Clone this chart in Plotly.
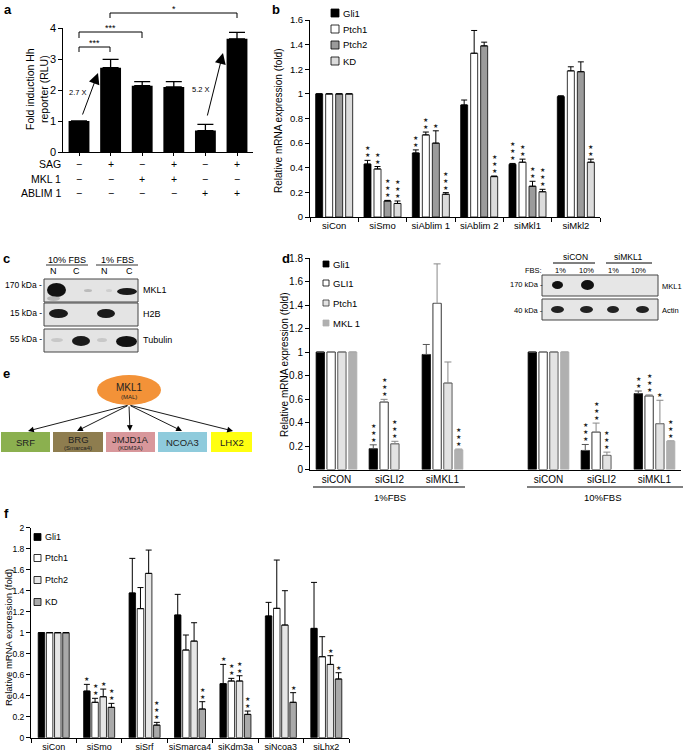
import plotly.graph_objects as go

W, H = 685, 755
FONT = "Arial, 'Liberation Sans', Helvetica, sans-serif"

# ---------------- data ----------------
# panel a : Hh reporter
a_values = [1.0, 2.72, 2.14, 2.10, 0.69, 3.65]
a_err_top = [1.0, 2.99, 2.27, 2.27, 0.89, 3.86]
a_sag = ["−", "+", "−", "+", "−", "+"]
a_mkl1 = ["−", "−", "+", "+", "−", "−"]
a_ablim1 = ["−", "−", "−", "−", "+", "+"]
a_row_labels = ["SAG", "MKL 1", "ABLIM 1"]

# panel b
b_cats = ["siCon", "siSmo", "siAblim 1", "siAblim 2", "siMkl1", "siMkl2"]
b_series = ["Gli1", "Ptch1", "Ptch2", "KD"]
b_gli1 = [1.0, 0.43, 0.52, 0.91, 0.428, 0.978]
b_gli1_top = [1.0, 0.46, 0.545, 0.95, 0.435, 0.985]
b_ptch1 = [1.0, 0.39, 0.667, 1.33, 0.445, 1.187]
b_ptch1_top = [1.0, 0.41, 0.69, 1.515, 0.47, 1.22]
b_ptch2 = [1.0, 0.13, 0.60, 1.39, 0.25, 1.18]
b_ptch2_top = [1.0, 0.135, 0.70, 1.42, 0.29, 1.26]
b_kd = [1.0, 0.11, 0.185, 0.328, 0.205, 0.445]
b_kd_top = [1.0, 0.13, 0.198, 0.333, 0.225, 0.47]
b_stars = [[0, 2, 2, 0, 3, 0], [0, 2, 2, 0, 2, 0], [0, 3, 1, 0, 2, 0], [0, 3, 3, 3, 3, 2]]

# panel d
d_cats = ["siCON", "siGLI2", "siMKL1", "siCON", "siGLI2", "siMKL1"]
d_pos = [0, 1, 2, 4, 5, 6]
d_series = ["Gli1", "GLI1", "Ptch1", "MKL 1"]
d_gli1 = [1.0, 0.177, 0.979, 1.0, 0.162, 0.646]
d_gli1_top = [1.0, 0.21, 1.064, 1.0, 0.213, 0.668]
d_GLI1 = [1.0, 0.574, 1.414, 1.0, 0.318, 0.626]
d_GLI1_top = [1.0, 0.597, 1.75, 1.0, 0.395, 0.635]
d_ptch1 = [1.0, 0.219, 0.736, 1.0, 0.12, 0.39]
d_ptch1_top = [1.0, 0.24, 0.915, 1.0, 0.148, 0.589]
d_mkl1 = [1.0, None, 0.168, 1.0, None, 0.241]
d_mkl1_top = [1.0, None, 0.175, 1.0, None, 0.245]
d_stars = [[0, 3, 0, 0, 3, 2], [0, 3, 0, 0, 3, 3], [0, 3, 0, 0, 3, 1], [0, 0, 3, 0, 0, 3]]
d_groups = ["1%FBS", "10%FBS"]

# panel f
f_cats = ["siCon", "siSmo", "siSrf", "siSmarca4", "siKdm3a", "siNcoa3", "siLhx2"]
f_series = ["Gli1", "Ptch1", "Ptch2", "KD"]
f_gli1 = [1.0, 0.444, 1.378, 1.168, 0.514, 1.159, 1.041]
f_gli1_top = [1.0, 0.508, 1.708, 1.365, 0.698, 1.289, 1.479]
f_ptch1 = [1.0, 0.337, 1.229, 0.835, 0.54, 1.232, 0.771]
f_ptch1_top = [1.0, 0.375, 1.43, 0.978, 0.565, 1.692, 0.962]
f_ptch2 = [1.0, 0.39, 1.565, 0.92, 0.54, 1.073, 0.698]
f_ptch2_top = [1.0, 0.463, 1.787, 1.095, 0.59, 1.40, 0.781]
f_kd = [1.0, 0.289, 0.12, 0.273, 0.222, 0.337, 0.559]
f_kd_top = [1.0, 0.327, 0.146, 0.343, 0.254, 0.429, 0.619]
f_stars = [[0, 1, 0, 0, 1, 0, 0], [0, 2, 0, 0, 2, 0, 0], [0, 1, 0, 0, 2, 0, 1], [0, 2, 3, 2, 2, 1, 1]]

# panel e
e_center = "MKL1"
e_center_sub = "(MAL)"
e_targets = ["SRF", "BRG", "JMJD1A", "NCOA3", "LHX2"]
e_target_subs = ["", "(Smarca4)", "(KDM3A)", "", ""]


# ---------------- helpers ----------------
def px(x):
    return x / W


def py(y):
    return 1 - y / H


shapes = []
annotations = []


def txt(x, y, text, size=9, xanchor="center", yanchor="middle", color="black", angle=0):
    annotations.append(dict(x=px(x), y=py(y), xref="paper", yref="paper", text=text,
                            showarrow=False, xanchor=xanchor, yanchor=yanchor, textangle=angle,
                            font=dict(family=FONT, size=size, color=color), borderpad=0))


def line(x0, y0, x1, y1, color="black", width=1):
    shapes.append(dict(type="line", xref="paper", yref="paper", x0=px(x0), y0=py(y0),
                       x1=px(x1), y1=py(y1), line=dict(color=color, width=width)))


def rect(x0, y0, x1, y1, fill, lc="black", lw=1):
    shapes.append(dict(type="rect", xref="paper", yref="paper", x0=px(x0), y0=py(y0),
                       x1=px(x1), y1=py(y1), fillcolor=fill, line=dict(color=lc, width=lw)))


def ellipse(x0, y0, x1, y1, fill, lc=None, lw=0, opacity=1):
    shapes.append(dict(type="circle", xref="paper", yref="paper", x0=px(x0), y0=py(y0),
                       x1=px(x1), y1=py(y1), fillcolor=fill, opacity=opacity,
                       line=dict(color=lc or fill, width=lw)))


def arrow(x0, y0, x1, y1, size=1.0, width=1.0, head=2):
    annotations.append(dict(x=px(x1), y=py(y1), ax=x0 - x1, ay=y0 - y1, xref="paper", yref="paper",
                            axref="pixel", ayref="pixel", text="", showarrow=True, arrowhead=head,
                            arrowsize=size, arrowwidth=width, arrowcolor="black"))


def stars(xa, ya, xs, tops, counts, size=5.5):
    for x, t, c in zip(xs, tops, counts):
        if t is None or c == 0:
            continue
        annotations.append(dict(x=x, y=t, xref=xa, yref=ya, text="<br>".join(["★"] * c),
                                showarrow=False, yanchor="bottom", yshift=1, borderpad=0,
                                font=dict(family=FONT, size=size, color="#222")))


def grouped(fig, xa, ya, cats_pos, vals, tops, colors, lines, errcols, w, step, capw, star_counts):
    n = len(vals)
    for i in range(n):
        shift = (i - (n - 1) / 2) * step
        xs = [c + shift for c, v in zip(cats_pos, vals[i]) if v is not None]
        ys = [v for v in vals[i] if v is not None]
        ts = [t for t in tops[i] if t is not None]
        fig.add_trace(go.Bar(
            x=xs, y=ys, width=w,
            marker=dict(color=colors[i], line=dict(color=lines[i], width=0.8)),
            error_y=dict(type="data", symmetric=False, array=[t - v for t, v in zip(ts, ys)],
                         arrayminus=[0] * len(xs), color=errcols[i], thickness=1, width=capw),
            xaxis=xa, yaxis=ya, showlegend=False))
        stars(xa, ya, [c + shift for c in cats_pos], tops[i], star_counts[i])


fig = go.Figure()

# ---------------- panel a ----------------
a_x = list(range(len(a_values)))
fig.add_trace(go.Bar(
    x=a_x, y=a_values, width=0.66, marker=dict(color="black", line=dict(width=0)),
    error_y=dict(type="data", symmetric=False,
                 array=[t - v for t, v in zip(a_err_top, a_values)],
                 arrayminus=[0] * len(a_values), color="black", thickness=1.3, width=8),
    xaxis="x", yaxis="y", showlegend=False))

for (xa0, xa1, yh, yl, lab, ly) in [(79, 110, 47, 52, "***", 43), (79, 142, 32, 38, "***", 28),
                                     (110, 237, 13, 18, "*", 9)]:
    shapes.append(dict(type="path", xref="paper", yref="paper",
                       path=f"M {px(xa0)} {py(yl)} L {px(xa0)} {py(yh)} L {px(xa1)} {py(yh)} L {px(xa1)} {py(yl)}",
                       line=dict(color="black", width=1)))
    txt((xa0 + xa1) / 2, ly, lab, size=9)

arrow(82, 116, 98, 73, size=2.2, width=1)
arrow(207, 117, 223, 53, size=2.2, width=1)
txt(78, 93, "2.7 X", size=7.5)
txt(201, 90, "5.2 X", size=7.5)

a_centers = [79, 110.5, 142, 173.5, 205, 237]
for row_y, lab, signs in [(164, a_row_labels[0], a_sag), (179, a_row_labels[1], a_mkl1),
                          (193, a_row_labels[2], a_ablim1)]:
    txt(62, row_y, lab, size=10.5, xanchor="right")
    for cx, s in zip(a_centers, signs):
        txt(cx, row_y, s, size=10.5)

txt(37, 89, "Fold induction Hh<br>reporter (RLU)", size=10.5, angle=-90)

# ---------------- panel b ----------------
b_colors = ["#000000", "#ffffff", "#9b9b9b", "#dcdcdc"]
b_x = list(range(len(b_cats)))
grouped(fig, "x2", "y2", b_x, [b_gli1, b_ptch1, b_ptch2, b_kd],
        [b_gli1_top, b_ptch1_top, b_ptch2_top, b_kd_top], b_colors, ["black"] * 4,
        ["black"] * 4, 0.145, 0.207, 3, b_stars)

for i, (name, yy) in enumerate(zip(b_series, [13, 29, 45, 61])):
    rect(331, yy - 4, 339, yy + 4, b_colors[i], "black", 0.8)
    txt(342, yy, name, size=9.5, xanchor="left")

txt(279, 121, "Relative mRNA expression (fold)", size=10, angle=-90)

# ---------------- panel c : blot ----------------
txt(67, 260, "10% FBS", size=9)
txt(117, 260, "1% FBS", size=9)
line(46, 265, 88, 265, "#333", 1)
line(96, 265, 138, 265, "#333", 1)
for cx, l in zip([53, 76, 104, 129], ["N", "C", "N", "C"]):
    txt(cx, 271, l, size=9)
for (y0, y1) in [(279, 302), (303, 326), (329, 352)]:
    rect(44, y0, 138, y1, "#e4e4e4", "#444", 1)
ellipse(47, 283, 66, 297, "#111")
ellipse(47, 296, 60, 301, "#999", opacity=0.6)
ellipse(84, 289, 92, 292, "#bbb")
ellipse(106, 289, 112, 292, "#cfcfcf")
ellipse(117, 288, 137, 295, "#1a1a1a")
ellipse(49, 309, 68, 318, "#1a1a1a")
ellipse(97, 309, 115, 318, "#1a1a1a")
ellipse(51, 338, 63, 342, "#c8c8c8")
ellipse(72, 336, 90, 346, "#1a1a1a")
ellipse(97, 338, 107, 342, "#c8c8c8")
ellipse(116, 336, 137, 347, "#111")
txt(43, 285, "170 kDa -", size=8.5, xanchor="right")
txt(43, 313, "15 kDa -", size=8.5, xanchor="right")
txt(43, 339, "55 kDa -", size=8.5, xanchor="right")
txt(142, 290, "MKL1", size=9, xanchor="left")
txt(142, 314, "H2B", size=9, xanchor="left")
txt(142, 340, "Tubulin", size=9, xanchor="left")

# ---------------- panel e : diagram ----------------
ellipse(97, 375, 161, 405, "#F39238")
txt(129, 387, e_center, size=10, color="#222")
txt(129, 397, e_center_sub, size=6, color="#222")
e_boxes = [(1, 50), (53, 103), (106, 155), (158, 207), (211, 252)]
e_fills = ["#8BB04F", "#8E7D4F", "#D8979B", "#8FCBDC", "#FFFF10"]
e_heads = [28, 77, 130, 182, 233]
for (x0, x1), fcol, name, sub, hx in zip(e_boxes, e_fills, e_targets, e_target_subs, e_heads):
    rect(x0, 432, x1, 452, fcol, fcol, 0)
    if sub:
        txt((x0 + x1) / 2, 439, name, size=9.5, color="#222")
        txt((x0 + x1) / 2, 448, sub, size=6, color="#222")
    else:
        txt((x0 + x1) / 2, 442, name, size=9.5, color="#222")
    arrow(129, 405, hx, 431, size=1.3, width=0.9)

# ---------------- panel d ----------------
d_colors = ["#000000", "#ffffff", "#e3e3e3", "#b0b0b0"]
d_lines = ["#000000", "#000000", "#333333", "#b0b0b0"]
d_err_colors = ["#555555", "#888888", "#888888", "#aaaaaa"]
grouped(fig, "x3", "y3", d_pos, [d_gli1, d_GLI1, d_ptch1, d_mkl1],
        [d_gli1_top, d_GLI1_top, d_ptch1_top, d_mkl1_top], d_colors, d_lines, d_err_colors,
        0.157, 0.204, 3.5, d_stars)

for i, (name, yy) in enumerate(zip(d_series, [264, 283, 303, 323])):
    rect(323, yy - 3, 329, yy + 3, d_colors[i], d_lines[i], 0.8)
    txt(332, yy, name, size=9.5, xanchor="left")

line(313, 487, 465, 487, "black", 1)
line(527, 487, 683, 487, "black", 1)
txt(390, 497, d_groups[0], size=9.5)
txt(603, 497, d_groups[1], size=9.5)
txt(284, 365, "Relative mRNA expression (fold)", size=10, angle=-90)

# inset blot
txt(575, 257, "siCON", size=8.5)
txt(628, 257, "siMKL1", size=8.5)
line(553, 263, 595, 263, "black", 1)
line(606, 263, 652, 263, "black", 1)
txt(533, 270, "FBS:", size=7.5)
for cx, l in zip([560, 586, 613, 638], ["1%", "10%", "1%", "10%"]):
    txt(cx, 270, l, size=7.5)
rect(542, 275, 658, 296, "#e6e6e6", "#444", 1)
rect(542, 299, 658, 320, "#e6e6e6", "#444", 1)
ellipse(552, 281, 563, 289, "#111")
ellipse(581, 280, 594, 290, "#111")
for (x0, x1) in [(551, 564), (580, 593), (607, 619), (636, 649)]:
    ellipse(x0, 306, x1, 313, "#222")
txt(544, 285, "170 kDa -", size=7.5, xanchor="right")
txt(544, 310, "40 kDa -", size=7.5, xanchor="right")
txt(661, 286, "MKL1", size=7.5, xanchor="left")
txt(661, 310, "Actin", size=7.5, xanchor="left")

# ---------------- panel f ----------------
f_colors = ["#000000", "#ffffff", "#e6e6e6", "#a9a9a9"]
f_x = list(range(len(f_cats)))
grouped(fig, "x4", "y4", f_x, [f_gli1, f_ptch1, f_ptch2, f_kd],
        [f_gli1_top, f_ptch1_top, f_ptch2_top, f_kd_top], f_colors, ["black"] * 4,
        ["black"] * 4, 0.143, 0.18, 3, f_stars)

for i, (name, yy) in enumerate(zip(f_series, [537, 558, 580, 602])):
    rect(34, yy - 3.5, 41, yy + 3.5, f_colors[i], "black", 0.8)
    txt(44, yy, name, size=9, xanchor="left")
txt(8, 638, "Relative mRNA expression (fold)", size=9.5, angle=-90)

# ---------------- panel labels ----------------
for lab, (x, y) in zip("abcdef", [(8, 9), (276, 9), (6, 259), (286, 258), (6, 373), (6, 513)]):
    annotations.append(dict(x=px(x), y=py(y), xref="paper", yref="paper", text=f"<b>{lab}</b>",
                            showarrow=False, xanchor="center", yanchor="middle", borderpad=0,
                            font=dict(family=FONT, size=13, color="black")))


# ---------------- axes ----------------
def yax(d0, d1, rng, dtick, size, anchor):
    return dict(domain=[py(d0), py(d1)], range=rng, dtick=dtick, tick0=0, showline=True,
                linecolor="black", linewidth=1, ticks="outside", ticklen=4, tickcolor="black",
                tickfont=dict(family=FONT, size=size), showgrid=False, zeroline=False,
                anchor=anchor, fixedrange=True, automargin=False)


def xax(d0, d1, rng, tickvals, ticktext, size, anchor, boundaries=None, ticks=""):
    ax = dict(domain=[px(d0), px(d1)], range=rng, tickvals=tickvals, ticktext=ticktext,
              showline=True, linecolor="black", linewidth=1, ticks=ticks, ticklen=3,
              tickcolor="black", tickfont=dict(family=FONT, size=size), showgrid=False,
              zeroline=False, anchor=anchor, fixedrange=True, automargin=False)
    if boundaries is not None:
        ax["minor"] = dict(tickvals=boundaries, ticks="outside", ticklen=4, tickcolor="black",
                           showgrid=False)
    return ax


fig.update_layout(
    template="none",
    width=W, height=H, margin=dict(l=0, r=0, t=0, b=0, pad=0), autosize=False,
    paper_bgcolor="white", plot_bgcolor="white", barmode="overlay",
    font=dict(family=FONT, color="black"),
    xaxis=xax(63.2, 252.8, [-0.5, 5.5], a_x, [""] * 6, 10, "y", ticks="outside"),
    yaxis=yax(152, 28, [0, 4], 1, 11, "x"),
    xaxis2=xax(310, 600, [-0.5, 5.5], b_x, b_cats, 9.5, "y2",
               boundaries=[i - 0.5 for i in range(7)]),
    yaxis2=yax(217, 20, [0, 1.6], 0.2, 9.5, "x2"),
    xaxis3=xax(310, 681, [-0.5, 6.5], d_pos, d_cats, 10, "y3"),
    yaxis3=yax(469.5, 258, [0, 1.8], 0.2, 10, "x3"),
    xaxis4=xax(31, 349, [-0.5, 6.5], f_x, f_cats, 9, "y4",
               boundaries=[i - 0.5 for i in range(8)]),
    yaxis4=yax(737.7, 527.7, [0, 2], 0.2, 8.5, "x4"),
    shapes=shapes, annotations=annotations,
)

fig.write_html("out.html", config={"displayModeBar": False},
               post_script="document.body.style.margin='0';document.body.style.overflow='hidden';")
